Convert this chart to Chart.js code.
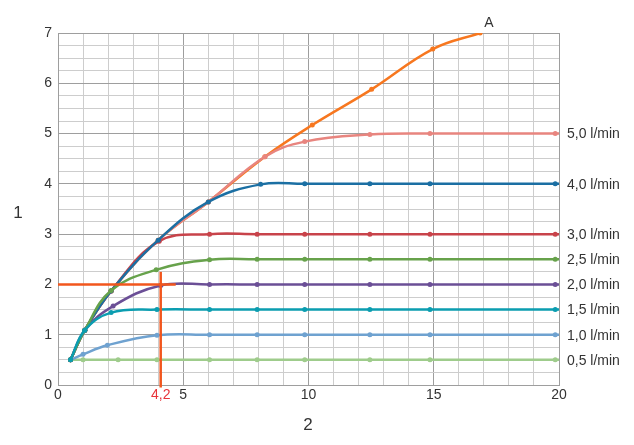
<!DOCTYPE html>
<html>
<head>
<meta charset="utf-8">
<script src="https://cdn.jsdelivr.net/npm/chart.js@4/dist/chart.umd.min.js"></script>
<style>
  html, body { margin: 0; padding: 0; background: #fff; }
  #wrap { width: 634px; height: 445px; }
</style>
</head>
<body>
<div id="wrap"><canvas id="flowChart"></canvas></div>
<script>
// x positions where the curves have markers once they level off
var tailX = [ 6.05, 7.95, 9.85, 12.45, 14.85, 19.85, 20 ]

var x05 = [ 0.5, 1, 2.4, 3.95 ].concat(tailX)
var y05 = [ 0.5, 0.5, 0.5, 0.5, 0.5, 0.5, 0.5, 0.5, 0.5, 0.5, 0.5 ]

var x10 = [ 0.5, 1, 1.97, 3.95 ].concat(tailX)
var y10 = [ 0.5, 0.61, 0.79, 0.99, 1, 1, 1, 1, 1, 1, 1 ]

var x15 = [ 0.5, 1.07, 2.12, 3.95 ].concat(tailX)
var y15 = [ 0.5, 1.09, 1.44, 1.5, 1.5, 1.5, 1.5, 1.5, 1.5, 1.5, 1.5 ]

var x20 = [ 0.5, 1.07, 2.2, 4.1 ].concat(tailX)
var y20 = [ 0.5, 1.09, 1.57, 1.98, 2, 2, 2, 2, 2, 2, 2 ]

var x25 = [ 0.5, 1.07, 2.12, 3.92 ].concat(tailX)
var y25 = [ 0.5, 1.09, 1.88, 2.29, 2.49, 2.5, 2.5, 2.5, 2.5, 2.5, 2.5 ]

var x30 = [ 0.5, 1.07, 2.12, 4.04 ].concat(tailX)
var y30 = [ 0.5, 1.09, 1.87, 2.86, 3, 3, 3, 3, 3, 3, 3 ]

var x40 = [ 0.5, 1.07, 2.12, 4.0, 6.0, 8.09, 9.85, 12.45, 14.85, 19.85, 20 ]
var y40 = [ 0.5, 1.09, 1.87, 2.88, 3.64, 3.99, 4, 4, 4, 4, 4 ]

var x50 = [ 0.5, 1.07, 2.12, 4.0, 6.0, 8.26, 9.85, 12.45, 14.85, 19.85, 20 ]
var y50 = [ 0.5, 1.09, 1.87, 2.88, 3.64, 4.54, 4.84, 4.98, 5, 5, 5 ]

var xA = [ 0.5, 1.07, 2.12, 4.0, 6.0, 8.26, 10.15, 12.52, 14.96, 16.85 ]
var yA = [ 0.5, 1.09, 1.87, 2.88, 3.64, 4.54, 5.17, 5.88, 6.68, 7.0 ]

// reading lines for the 2 l/min example
var guideHX = [ 0, 4.7 ]
var guideHY = [ 2, 2 ]
var guideVX = [ 4.1, 4.1 ]
var guideVY = [ -0.05, 2.25 ]
var guideLabel = '4,2'

var flowLabels = [ '5,0 l/min', '4,0 l/min', '3,0 l/min', '2,5 l/min', '2,0 l/min', '1,5 l/min', '1,0 l/min', '0,5 l/min' ]
var flowLevels = [ 5, 4, 3, 2.5, 2, 1.5, 1, 0.5 ]

var xTicks = [ 0, 5, 10, 15, 20 ]
var yTicks = [ 0, 1, 2, 3, 4, 5, 6, 7 ]

function pts (xs, ys) {
  return xs.map(function (v, i) { return { x: v, y: ys[i] } })
}

function curve (data, color, order) {
  return {
    data: data,
    borderColor: color,
    backgroundColor: color,
    borderWidth: 2.5,
    tension: 0.4,
    order: order,
    pointRadius: function (c) { return c.raw && c.raw.x === 20 ? 0 : 2.5 },
    pointHoverRadius: 0,
    pointBorderWidth: 0
  }
}

var fontFam = '"Liberation Sans", Arial, Helvetica, sans-serif'

var textPlugin = {
  id: 'texts',
  afterDraw: function (chart) {
    var ctx = chart.ctx
    var xs = chart.scales.x
    var ys = chart.scales.y
    ctx.save()
    ctx.font = '14px ' + fontFam
    ctx.fillStyle = '#333'
    ctx.textBaseline = 'middle'
    ctx.textAlign = 'left'
    flowLabels.forEach(function (t, i) {
      ctx.fillText(t, xs.right + 8, ys.getPixelForValue(flowLevels[i]) + 1)
    })
    ctx.textAlign = 'center'
    ctx.fillText('A', xs.getPixelForValue(17.2), 23)
    ctx.font = '17px ' + fontFam
    ctx.fillText('1', 18, 213)
    ctx.fillText('2', 308, 425)
    ctx.font = '14px ' + fontFam
    ctx.fillStyle = '#e8343a'
    ctx.fillText(guideLabel, xs.getPixelForValue(guideVX[0]), ys.bottom + 10)
    ctx.restore()
  }
}

var guideColor = '#f2561d'

new Chart(document.getElementById('flowChart'), {
  type: 'line',
  data: {
    datasets: [
      { data: pts(guideHX, guideHY), borderColor: guideColor, borderWidth: 2.5, pointRadius: 0, tension: 0, order: -2, clip: false },
      { data: pts(guideVX, guideVY), borderColor: guideColor, borderWidth: 2.5, pointRadius: 0, tension: 0, order: -1, clip: false },
      curve(pts(x15, y15), '#0b9db0', 0),
      curve(pts(x25, y25), '#67a24b', 1),
      curve(pts(x20, y20), '#6b4f96', 2),
      curve(pts(x40, y40), '#1b6fa3', 3),
      curve(pts(x30, y30), '#c8434a', 4),
      curve(pts(x50, y50), '#e8857f', 5),
      curve(pts(xA, yA), '#f7771f', 6),
      curve(pts(x10, y10), '#6fa2d0', 7),
      curve(pts(x05, y05), '#9fcc8c', 8)
    ]
  },
  options: {
    responsive: true,
    maintainAspectRatio: false,
    animation: false,
    layout: { padding: { left: 0, right: 75, top: 33, bottom: 0 } },
    plugins: {
      legend: { display: false },
      tooltip: { enabled: false }
    },
    scales: {
      x: {
        type: 'linear',
        min: 0,
        max: 20,
        afterFit: function (s) { s.height = 60 },
        ticks: {
          stepSize: 1,
          autoSkip: false,
          maxRotation: 0,
          padding: 2,
          color: '#333',
          font: { size: 14, family: fontFam },
          callback: function (v) { return xTicks.indexOf(v) >= 0 ? String(v) : '' }
        },
        grid: {
          drawTicks: false,
          color: function (c) { return c.tick && c.tick.value % 5 === 0 ? '#9e9e9e' : '#cdcdcd' }
        },
        border: { color: '#9e9e9e' }
      },
      y: {
        type: 'linear',
        min: 0,
        max: 7,
        afterFit: function (s) { s.width = 58 },
        ticks: {
          stepSize: 0.25,
          autoSkip: false,
          padding: 6,
          color: '#333',
          font: { size: 14, family: fontFam },
          callback: function (v) { return yTicks.indexOf(v) >= 0 ? String(v) : '' }
        },
        grid: {
          drawTicks: false,
          color: function (c) { return c.tick && c.tick.value % 1 === 0 ? '#9e9e9e' : '#cdcdcd' }
        },
        border: { color: '#9e9e9e' }
      }
    }
  },
  plugins: [ textPlugin ]
})
</script>
</body>
</html>
